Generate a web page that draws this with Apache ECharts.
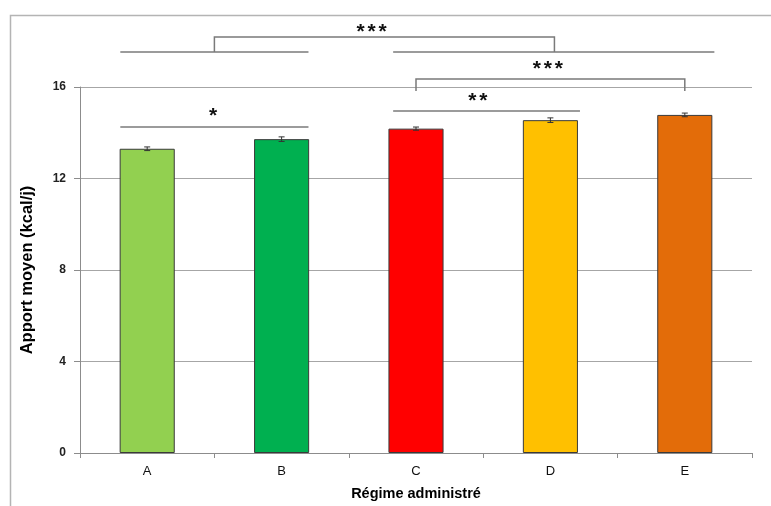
<!DOCTYPE html>
<html><head><meta charset="utf-8">
<script src="https://cdn.jsdelivr.net/npm/echarts@6/dist/echarts.min.js"></script>
<style>html,body{margin:0;padding:0;background:#fff}#c{width:771px;height:506px}</style>
</head><body><div id="c"></div>
<script>
// ---- data ----
const categories = ['A', 'B', 'C', 'D', 'E'];
const means = [13.3, 13.72, 14.18, 14.55, 14.78];
const errors = [0.08, 0.1, 0.07, 0.1, 0.08];
const barColors = ['#92D050', '#00B050', '#FF0000', '#FFC000', '#E36C09'];
const yTicks = [0, 4, 8, 12, 16];
// significance brackets: polylines in (category index, value) space
const sigLines = [
  [[-0.2, 14.25], [1.2, 14.25]],
  [[1.83, 14.95], [3.22, 14.95]],
  [[2, 15.83], [2, 16.35], [4, 16.35], [4, 15.83]],
  [[-0.2, 17.53], [1.2, 17.53]],
  [[1.83, 17.53], [4.22, 17.53]],
  [[0.5, 17.53], [0.5, 18.19], [3.03, 18.19], [3.03, 17.53]]
];
const sigLabels = ['*', '**', '***', '***'];
const sigLabelPos = [[0.49, 14.82], [2.46, 15.48], [2.98, 16.87], [1.67, 18.49]];

const chart = echarts.init(document.getElementById('c'), null, {renderer: 'canvas'});
const FONT = '"Liberation Sans", Arial, sans-serif';

chart.setOption({
  animation: false,
  backgroundColor: '#fff',
  graphic: [{
    type: 'rect', left: 8, top: 13, z: -1,
    shape: {width: 800, height: 600},
    style: {fill: 'none', stroke: '#b4b4b4', lineWidth: 1.5}
  }],
  grid: {left: 80, right: 19, top: 87, bottom: 53},
  xAxis: [{
    type: 'category', data: categories,
    axisLine: {onZero: false, lineStyle: {color: '#8c8c8c', width: 1}},
    axisTick: {show: true, length: 5, lineStyle: {color: '#8c8c8c'}},
    axisLabel: {margin: 12, fontFamily: FONT, fontSize: 13, color: '#111'},
    name: 'Régime administré', nameLocation: 'middle', nameGap: 33,
    nameTextStyle: {fontFamily: FONT, fontSize: 14.5, fontWeight: 'bold', color: '#000'}
  }, {
    type: 'value', min: -0.5, max: 4.5, show: false
  }],
  yAxis: [{
    type: 'value', min: yTicks[0], max: yTicks[yTicks.length - 1], interval: 4,
    axisLine: {show: true, onZero: false, lineStyle: {color: '#8c8c8c', width: 1}},
    axisTick: {show: true, length: 6, lineStyle: {color: '#8c8c8c'}},
    splitLine: {lineStyle: {color: '#a6a6a6', width: 1}},
    axisLabel: {margin: 14, fontFamily: FONT, fontSize: 12, fontWeight: 'bold', color: '#222'},
    name: 'Apport moyen (kcal/j)', nameLocation: 'middle', nameGap: 44,
    nameTextStyle: {fontFamily: FONT, fontSize: 16.5, fontWeight: 'bold', color: '#000'}
  }],
  series: [{
    type: 'bar', barWidth: '41%',
    data: means.map((v, i) => ({value: v, itemStyle: {color: barColors[i]}})),
    itemStyle: {borderColor: '#3a3a3a', borderWidth: 1}
  }, {
    type: 'custom', xAxisIndex: 1, clip: false,
    data: means.map((v, i) => [i, v]),
    renderItem: function (params, api) {
      const i = params.dataIndex, m = means[i], e = errors[i];
      const hi = api.coord([i, m + e]), lo = api.coord([i, m - e]);
      const w = 3;
      const st = {stroke: '#333', lineWidth: 1};
      return {type: 'group', children: [
        {type: 'line', shape: {x1: hi[0], y1: hi[1], x2: lo[0], y2: lo[1]}, style: st},
        {type: 'line', shape: {x1: hi[0] - w, y1: hi[1], x2: hi[0] + w, y2: hi[1]}, style: st},
        {type: 'line', shape: {x1: lo[0] - w, y1: lo[1], x2: lo[0] + w, y2: lo[1]}, style: st}
      ]};
    }, z: 5
  }, {
    type: 'custom', xAxisIndex: 1, clip: false,
    data: sigLines.map((l, i) => [i, 0]),
    renderItem: function (params, api) {
      const pts = sigLines[params.dataIndex].map(p => api.coord(p));
      return {type: 'polyline', shape: {points: pts},
        style: {stroke: '#7a7a7a', lineWidth: 1.5, fill: 'none'}};
    }, z: 6
  }, {
    type: 'custom', xAxisIndex: 1, clip: false,
    data: sigLabels.map((s, i) => [i, 0]),
    renderItem: function (params, api) {
      const p = api.coord(sigLabelPos[params.dataIndex]);
      const s = sigLabels[params.dataIndex];
      const pitch = 11;
      const children = [];
      for (let k = 0; k < s.length; k++) {
        children.push({type: 'text', x: p[0] + (k - (s.length - 1) / 2) * pitch, y: p[1] + 13,
          style: {text: s[k], fontFamily: FONT, fontSize: 21, fontWeight: 'bold',
            fill: '#111', align: 'center', verticalAlign: 'bottom'}});
      }
      return {type: 'group', children: children};
    }, z: 7
  }]
});
</script></body></html>
